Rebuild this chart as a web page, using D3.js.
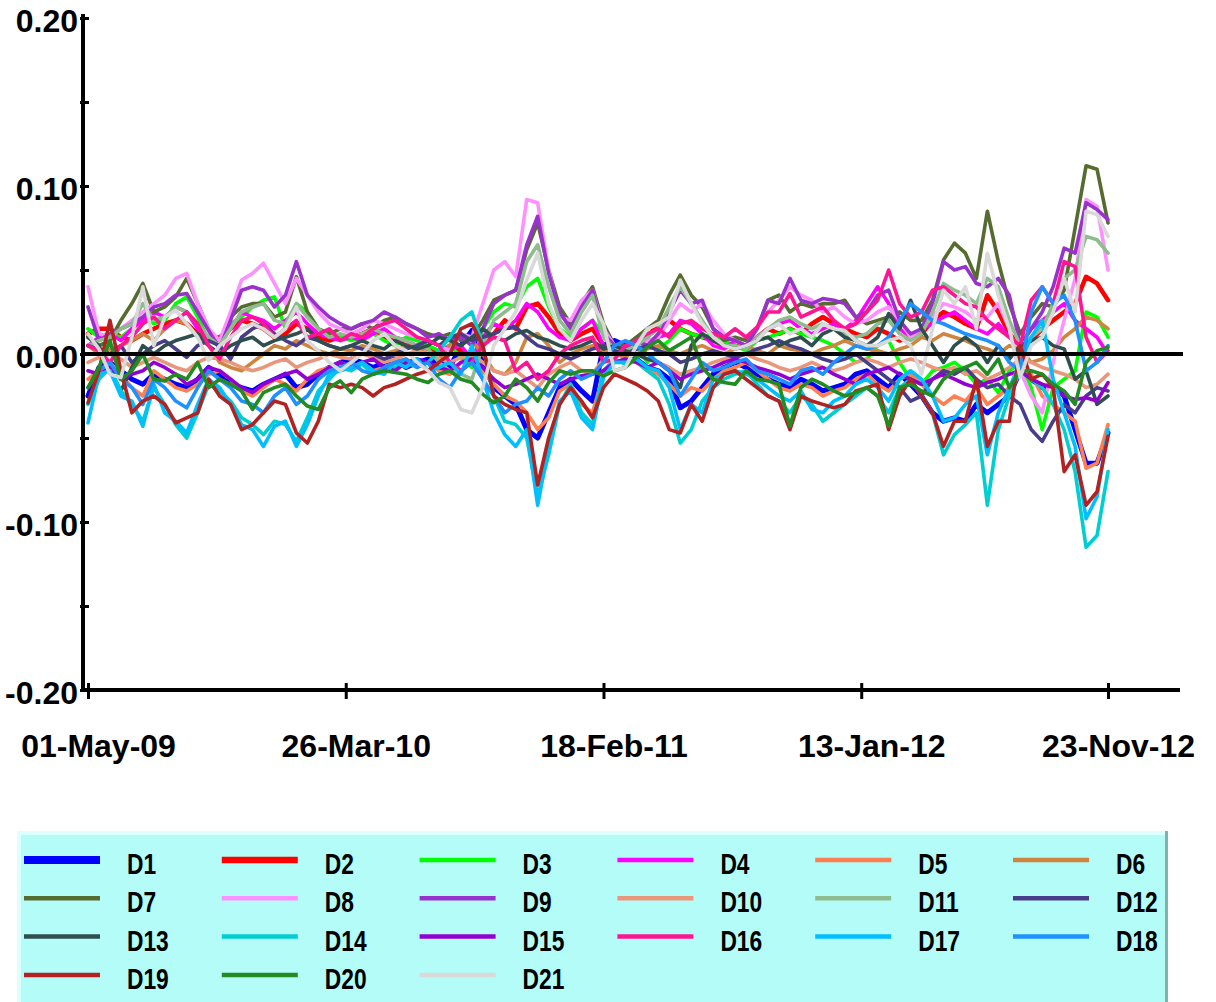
<!DOCTYPE html>
<html><head><meta charset="utf-8">
<script src="https://cdn.jsdelivr.net/npm/d3@7"></script>
<style>
html,body{margin:0;padding:0;background:#fff;}
svg{display:block;}
text{font-family:"Liberation Sans",Arial,sans-serif;font-weight:bold;fill:#000;}
</style></head><body>
<svg id="chart" width="1216" height="1002"></svg>
<script>
// ---- data ----
const startDate = "2009-05-01";
const stepDays = 14;
const xTickDates = ["2009-05-01","2010-03-26","2011-02-18","2012-01-13","2012-11-23"];
const xTickLabels = ["01-May-09","26-Mar-10","18-Feb-11","13-Jan-12","23-Nov-12"];
const yTicks = [-0.2,-0.1,0,0.1,0.2];
const yTickLabels = ["-0.20","-0.10","0.00","0.10","0.20"];
const yMinorTicks = [-0.15,-0.05,0.05,0.15];
const seriesNames = ["D1","D2","D3","D4","D5","D6","D7","D8","D9","D10","D11","D12","D13","D14","D15","D16","D17","D18","D19","D20","D21"];

const D1 = [-.025,-.008,-.005,-.010,-.015,-.018,-.012,-.015,-.018,-.020,
-.015,-.008,-.012,-.018,-.020,-.022,-.018,-.015,-.012,-.020,
-.018,-.012,-.008,-.005,-.003,-.005,-.008,-.005,-.003,-.008,
-.005,-.003,-.005,-.008,.005,.014,-.005,-.020,-.025,-.030,
-.045,-.050,-.035,-.020,-.015,-.022,-.028,.005,.008,.005,
-.003,-.008,-.010,-.015,-.032,-.028,-.020,-.012,-.008,-.005,
-.008,-.012,-.015,-.018,-.020,-.015,-.018,-.022,-.020,-.018,
-.012,-.010,-.015,-.020,-.012,-.018,-.025,-.035,-.040,-.038,
-.040,-.030,-.035,-.030,-.025,-.010,-.015,-.020,-.018,-.025,
-.045,-.065,-.065,-.047];
const D2 = [.012,.015,.015,.010,.008,.012,.015,.018,.020,.018,
.012,.008,.010,.015,.020,.018,.015,.010,.012,.018,
.015,.010,.008,.010,.010,.012,.015,.010,.008,.005,
.005,.003,.000,.005,.002,-.002,.005,.012,.020,.015,
.028,.030,.022,.012,.008,.012,.015,.005,.002,.002,
.005,.010,.018,.020,.015,.012,.010,.008,.005,.005,
.003,.010,.015,.012,.015,.012,.018,.022,.018,.015,
.012,.010,.015,.012,.008,.010,.012,.020,.025,.022,
.018,.015,.035,.025,.012,.005,.008,.015,.020,.025,
.030,.046,.042,.032];
const D3 = [.015,.010,.012,.010,.015,.022,.018,.020,.030,.034,
.022,.008,.005,.018,.022,.028,.032,.034,.015,.030,
.025,.015,.012,.010,.008,.010,.012,.008,.005,.010,
.008,.005,.002,.005,-.002,-.008,.015,.025,.030,.028,
.040,.045,.028,.015,.010,.015,.020,.012,.003,.000,
.005,-.005,.003,.008,.015,.012,.010,.012,.008,.005,
.002,.008,.010,.012,.015,.012,.010,.008,.005,.000,
-.005,-.003,.005,.008,-.005,-.015,-.018,-.010,-.008,-.005,
-.010,-.018,-.015,-.023,-.010,-.005,-.020,-.045,-.020,-.015,
-.010,.025,.022,.010];
const D4 = [.005,.010,.012,.008,.015,.020,.025,.022,.028,.025,
.015,.010,.008,.015,.025,.022,.020,.015,.020,.025,
.018,.012,.010,.008,.010,.008,.012,.015,.010,.008,
.005,.008,.005,.003,.005,-.003,.010,.018,.015,.020,
.030,.025,.015,.010,.008,.015,.020,.005,.002,-.002,
.003,.005,.010,.012,.020,.018,.012,.005,.003,.008,
.005,.010,.015,.018,.020,.015,.012,.015,.018,.015,
.020,.030,.040,.030,.015,.010,.015,.018,.022,.025,
.020,.015,.012,.018,.010,.005,.015,.020,.025,.030,
.020,.015,.010,.000];
const D5 = [-.015,-.010,-.005,-.012,-.020,-.025,-.010,-.015,-.020,-.022,
-.018,-.012,-.010,-.015,-.022,-.025,-.020,-.015,-.018,-.022,
-.015,-.010,-.008,-.005,-.008,-.005,-.010,-.008,-.005,-.003,
-.008,-.005,-.010,-.012,-.005,-.002,-.010,-.018,-.025,-.028,
-.035,-.045,-.038,-.022,-.018,-.030,-.035,-.012,-.005,-.003,
-.005,-.010,-.012,-.018,-.025,-.020,-.022,-.015,-.010,-.008,
-.005,-.010,-.015,-.020,-.022,-.018,-.020,-.025,-.022,-.020,
-.015,-.012,-.018,-.022,-.015,-.012,-.018,-.025,-.030,-.025,
-.028,-.020,-.030,-.025,-.020,-.008,-.012,-.025,-.030,-.035,
-.040,-.068,-.065,-.042];
const D6 = [.005,.000,.003,.005,.008,.012,.008,.015,.020,.018,
.010,.005,-.005,-.008,-.010,-.005,.000,.005,.003,.008,
.005,.002,.000,.003,.002,.005,.003,.000,.002,.005,
.003,.000,-.003,.005,.010,.008,.000,-.010,-.012,-.005,
.010,.012,.005,-.005,.000,.003,.005,.002,.000,-.002,
.000,.003,.005,.002,.000,.003,.005,.002,.000,.003,
.005,.002,.000,.005,.003,.002,.000,.003,.005,.008,
.005,.003,.002,.000,.003,.005,.010,.008,.012,.010,
.008,.005,.003,.000,.005,.003,-.005,-.003,.002,.010,
.015,.022,.020,.015];
const D7 = [.010,.005,.008,.020,.030,.042,.025,.028,.034,.045,
.030,.015,.003,.022,.028,.030,.030,.022,.025,.046,
.025,.015,.012,.015,.015,.018,.015,.020,.022,.018,
.015,.012,.010,.012,.008,.010,.020,.032,.035,.038,
.062,.078,.050,.028,.018,.030,.040,.018,.005,.005,
.010,.015,.020,.035,.047,.035,.028,.015,.008,.010,
.008,.015,.032,.035,.025,.030,.028,.030,.030,.032,
.022,.018,.020,.022,.025,.020,.020,.032,.056,.066,
.060,.045,.085,.055,.030,.012,.022,.030,.028,.038,
.075,.112,.110,.078];
const D8 = [.040,.012,.010,.015,.020,.025,.030,.035,.045,.048,
.030,.015,.008,.025,.044,.048,.054,.042,.030,.045,
.035,.025,.018,.015,.012,.015,.020,.018,.015,.012,
.010,.008,.005,.002,.012,.010,.030,.050,.055,.046,
.092,.090,.050,.022,.020,.032,.038,.015,.005,.003,
.005,.008,.010,.020,.030,.025,.030,.020,.012,.008,
.005,.015,.025,.032,.040,.035,.032,.025,.028,.022,
.018,.020,.025,.028,.020,.010,.015,.022,.030,.028,
.025,.020,.022,.030,.015,-.010,-.025,-.035,-.005,.020,
.045,.092,.088,.050];
const D9 = [.028,.008,.012,.015,.018,.022,.028,.030,.035,.036,
.025,.014,.003,.020,.038,.040,.038,.028,.035,.055,
.035,.028,.022,.018,.015,.018,.020,.025,.022,.018,
.015,.010,.012,.008,.010,.005,.015,.030,.035,.038,
.065,.082,.048,.025,.015,.028,.038,.012,.005,.003,
.008,.005,.012,.025,.038,.030,.032,.015,.010,.008,
.005,.015,.032,.030,.045,.032,.030,.033,.032,.030,
.022,.025,.035,.038,.020,.012,.015,.030,.055,.050,
.052,.042,.040,.045,.035,.005,.015,.025,.040,.063,
.060,.090,.086,.080];
const D10 = [-.005,-.002,.000,-.003,-.008,-.005,-.002,-.005,-.008,-.010,
-.005,-.002,-.003,-.005,-.008,-.010,-.008,-.005,-.003,-.008,
-.005,-.003,.000,-.002,-.003,.000,-.002,-.005,-.003,.000,
.002,.000,-.003,-.005,-.002,.000,-.005,-.010,-.012,-.010,
-.015,-.020,-.012,-.008,-.005,-.010,-.012,-.003,.000,.002,
.000,-.003,-.005,-.008,-.012,-.010,-.008,-.005,-.003,-.002,
.000,-.003,-.005,-.008,-.010,-.008,-.005,-.008,-.010,-.008,
-.005,-.003,-.005,-.008,-.005,-.003,-.005,-.008,-.010,-.008,
-.012,-.010,-.015,-.012,-.008,-.003,-.005,-.008,-.010,-.012,
-.015,-.020,-.018,-.012];
const D11 = [.005,.008,.010,.015,.018,.030,.020,.022,.028,.025,
.018,.010,.005,.015,.025,.028,.030,.020,.018,.030,
.022,.015,.010,.012,.010,.012,.015,.012,.010,.008,
.005,.003,-.005,-.010,-.012,-.015,.005,.020,.025,.030,
.055,.065,.040,.020,.012,.025,.035,.010,.003,.002,
.005,.010,.015,.028,.040,.030,.020,.010,.005,.005,
.003,.010,.015,.020,.022,.018,.015,.018,.015,.012,
.010,.012,.018,.020,.012,.008,.012,.025,.042,.038,
.035,.030,.045,.040,.020,.005,.010,.015,.030,.045,
.050,.070,.068,.060];
const D12 = [.005,.003,.000,.005,-.005,.000,.005,.008,.003,-.002,
.005,.008,.005,-.003,.010,.015,.018,.012,.008,.005,
.010,.008,.005,.003,.005,.003,.000,-.003,.000,.003,
.005,.008,.005,.010,.012,.008,.010,.012,.015,.016,
.010,.005,.003,.000,-.003,.000,.003,.005,.002,.000,
.003,.005,.002,.000,-.005,-.003,.000,.002,.000,-.002,
.000,.003,.005,.008,.005,.003,.000,-.003,-.005,-.003,
.000,-.005,-.010,-.015,-.020,-.028,-.025,-.015,-.010,-.012,
-.008,-.015,-.020,-.018,-.025,-.030,-.045,-.052,-.040,-.030,
-.035,-.025,-.020,-.022];
const D13 = [.010,.005,-.010,-.022,-.008,.005,.000,.005,.008,.010,
.012,.005,.000,.005,.008,.010,.005,.008,.010,.012,
.015,.008,.005,.003,.005,.008,.005,.003,.008,.005,
.003,.005,.010,.008,.005,.010,.015,.010,.008,.012,
.014,.010,.008,.005,.003,.005,.008,.003,.005,.002,
.000,-.003,-.005,-.010,-.020,.005,.012,.008,.005,.003,
.005,.008,.010,.005,.008,.010,.005,.012,.015,.010,
.008,.005,.010,.024,.015,.032,.015,.005,-.005,.005,
.010,.005,-.005,.005,-.003,.005,.008,.010,.005,.003,
-.015,-.010,-.030,-.025];
const D14 = [-.030,-.015,-.008,-.022,-.030,-.040,-.020,-.030,-.042,-.050,
-.035,-.018,-.022,-.028,-.038,-.042,-.048,-.040,-.042,-.052,
-.038,-.022,-.015,-.008,-.010,-.006,-.012,-.010,-.008,-.005,
-.008,-.005,.002,.010,.020,.025,.005,-.025,-.040,-.042,
-.050,-.085,-.060,-.030,-.018,-.035,-.042,-.010,-.003,-.006,
-.004,-.010,-.015,-.030,-.053,-.045,-.028,-.020,-.015,-.012,
-.010,-.018,-.025,-.028,-.035,-.025,-.030,-.040,-.035,-.030,
-.025,-.020,-.025,-.035,-.020,-.015,-.025,-.035,-.060,-.048,
-.042,-.035,-.090,-.045,-.025,-.010,-.015,-.020,-.030,-.045,
-.070,-.115,-.108,-.070];
const D15 = [-.010,-.012,-.008,-.015,-.012,-.010,-.005,-.008,-.012,-.018,
-.015,-.008,-.010,-.015,-.020,-.023,-.018,-.015,-.012,-.010,
-.015,-.012,-.008,-.005,-.008,-.005,-.003,-.008,-.010,-.005,
-.003,-.005,-.008,-.010,-.005,-.003,-.008,-.015,-.020,-.018,
-.015,-.012,-.015,-.018,-.015,-.013,-.012,-.010,-.005,-.003,
-.005,-.008,-.005,-.010,-.015,-.012,-.010,-.008,-.005,-.003,
-.005,-.008,-.010,-.012,-.015,-.012,-.010,-.008,-.012,-.015,
-.018,-.012,-.010,-.008,-.012,-.015,-.018,-.015,-.012,-.015,
-.018,-.020,-.017,-.015,-.012,-.010,-.015,-.018,-.020,-.025,
-.027,-.026,-.028,-.017];
const D16 = [.005,.002,-.005,.005,.010,.018,.022,.015,.020,.025,
.018,.005,-.003,.010,.020,.022,.018,.010,.015,.020,
.010,.012,.015,.008,.012,.010,.015,.018,.020,.015,
.010,.008,.005,-.005,-.010,-.005,.005,.010,.008,-.010,
-.005,-.015,-.010,.000,.005,.008,.010,-.005,-.003,.005,
.008,.012,.015,.010,.018,.020,.015,.012,.010,.015,
.010,.016,.025,.025,.036,.022,.025,.028,.020,.015,
.018,.025,.032,.050,.030,.022,.025,.038,.040,.035,
.030,.028,.020,.015,.010,.005,.032,.040,.030,.055,
.052,.010,-.005,.002];
const D17 = [-.041,-.012,-.010,-.025,-.028,-.043,-.018,-.035,-.040,-.047,
-.030,-.015,-.020,-.030,-.042,-.045,-.055,-.043,-.040,-.055,
-.042,-.025,-.012,-.010,-.008,-.005,-.010,-.012,-.005,-.008,
-.003,-.010,-.008,-.005,-.012,.005,-.015,-.035,-.048,-.055,
-.045,-.090,-.055,-.028,-.022,-.038,-.045,-.014,-.005,-.005,
-.003,-.008,-.010,-.020,-.045,-.030,-.035,-.015,-.012,-.010,
-.012,-.015,-.020,-.025,-.028,-.022,-.033,-.035,-.028,-.025,
-.018,-.015,-.020,-.028,-.015,-.010,-.015,-.025,-.040,-.038,
-.030,-.025,-.060,-.035,-.020,-.005,.010,.020,-.015,-.035,
-.055,-.098,-.085,-.045];
const D18 = [-.020,-.010,-.005,-.015,-.020,-.030,-.015,-.020,-.028,-.032,
-.020,-.010,-.015,-.020,-.028,-.030,-.035,-.025,-.020,-.030,
-.025,-.015,-.010,-.008,-.005,-.010,-.012,-.008,-.005,-.003,
-.008,-.005,-.015,-.020,-.010,-.005,-.015,-.025,-.035,-.030,
-.028,-.020,-.025,-.015,-.010,-.015,-.012,-.005,.005,.008,
.005,.000,-.005,-.010,-.025,-.015,-.005,-.010,-.008,-.005,
-.003,-.010,-.012,-.015,-.018,-.010,-.008,-.012,-.005,.000,
.005,.003,.005,.010,.020,.030,.025,.020,.018,.015,
.012,.010,.008,.005,-.005,-.010,.025,.040,.030,.035,
.020,-.010,-.005,.005];
const D19 = [-.029,-.010,.020,-.010,-.035,-.028,-.025,-.030,-.041,-.038,
-.035,-.015,-.025,-.030,-.045,-.042,-.035,-.028,-.030,-.047,
-.053,-.040,-.018,-.020,-.018,-.020,-.025,-.020,-.018,-.015,
-.012,-.010,-.005,.000,.015,.018,.005,-.025,-.030,-.033,
-.035,-.078,-.050,-.030,-.020,-.028,-.038,-.020,-.012,-.015,
-.018,-.022,-.028,-.045,-.047,-.030,-.040,-.020,-.012,-.010,
-.015,-.020,-.025,-.028,-.045,-.025,-.028,-.030,-.032,-.030,
-.022,-.020,-.018,-.045,-.025,-.015,-.025,-.035,-.055,-.040,
-.040,-.015,-.055,-.040,-.040,.005,-.015,-.012,-.020,-.070,
-.060,-.090,-.082,-.049];
const D20 = [-.020,-.008,.008,-.015,-.010,.000,-.015,-.016,-.012,-.015,
-.005,-.020,-.015,-.018,-.022,-.033,-.023,-.020,-.018,-.025,
-.031,-.033,-.020,-.016,-.023,-.015,-.012,-.010,-.011,-.012,
-.015,-.017,-.012,-.010,-.015,-.017,-.024,-.029,-.025,-.015,
-.020,-.028,-.017,-.010,-.012,-.010,-.010,-.013,-.010,-.008,
-.002,.004,.008,.002,.006,.010,-.008,-.015,-.017,-.018,
-.010,-.015,-.016,-.018,-.043,-.020,-.015,-.018,-.022,-.025,
-.023,-.020,-.025,-.043,-.020,-.018,-.022,-.025,-.015,-.010,
-.008,-.005,-.012,-.003,-.020,-.010,-.010,-.012,-.018,-.022,
-.030,-.005,.002,.004];
const D21 = [.012,.003,-.012,-.014,.010,.040,.005,.022,.026,.018,
.010,-.004,.005,.010,.015,.018,.015,.010,.015,.028,
.008,.002,-.005,-.010,-.005,.000,.008,.012,.005,.002,
-.005,-.010,-.017,-.020,-.033,-.035,-.020,.005,.015,.025,
.044,.060,.030,.015,.008,.020,.030,.018,-.010,-.008,
.005,.015,.018,.022,.044,.030,.018,.010,.005,.003,
.005,.008,.015,.018,.012,.015,.010,.018,.015,.014,
.008,.005,.005,.008,.010,.005,-.012,.015,.038,.030,
.040,.015,.060,.035,.015,-.014,.005,.010,.025,.045,
.025,.085,.083,.070];

const seriesValues = [D1,D2,D3,D4,D5,D6,D7,D8,D9,D10,D11,D12,D13,D14,D15,D16,D17,D18,D19,D20,D21];

// ---- styles ----
const colors = ["#0000FF","#FF0000","#00FF00","#FF00FF","#FF7F50","#CD853F","#556B2F","#FF90FF","#9932CC","#E9967A","#8FBC8F","#483D8B","#2F4F4F","#00CED1","#9400D3","#FF1493","#00BFFF","#1E90FF","#B22222","#228B22","#D9D9D9"];
const lineWidths = seriesNames.map((n,i)=> i===0 ? 5 : (i===1 ? 4.5 : 3.6));
const swatchWidths = seriesNames.map((n,i)=> i===0 ? 8 : (i===1 ? 6.5 : 4.5));

const svg = d3.select("#chart");
svg.append("rect").attr("width",1216).attr("height",1002).attr("fill","#fff");

const parse = d3.utcParse("%Y-%m-%d");
const t0 = parse(startDate);
const dates = D1.map((_, i) => d3.utcDay.offset(t0, i*stepDays));

const x = d3.scaleUtc().domain([parse("2009-05-01"), parse("2012-11-23")]).range([88,1108]);
const y = d3.scaleLinear().domain([-0.2,0.2]).range([690,18]);

// series lines
const line = d3.line().x((d,i)=>x(dates[i])).y(d=>y(d));
const gLines = svg.append("g");
seriesValues.forEach((vals, k) => {
  gLines.append("path").datum(vals)
    .attr("d", line)
    .attr("fill","none")
    .attr("stroke", colors[k])
    .attr("stroke-width", lineWidths[k])
    .attr("stroke-linejoin","round")
    .attr("stroke-linecap","round");
});

// zero line
svg.append("line").attr("x1",83).attr("x2",1183).attr("y1",y(0)).attr("y2",y(0))
  .attr("stroke","#000").attr("stroke-width",4);

// y axis
const yAxisG = svg.append("g").attr("transform","translate(83,0)")
  .call(d3.axisLeft(y).tickValues(yTicks).tickSize(0).tickFormat((d,i)=>yTickLabels[i]));
yAxisG.select(".domain").remove();
yAxisG.selectAll(".tick text").attr("x",-5).attr("dy",null).attr("y",13)
  .style("font-size","32px").style("font-family",'"Liberation Sans",Arial,sans-serif').style("font-weight","bold");
yAxisG.selectAll(".tick line").attr("x1",-3).attr("x2",6).attr("stroke","#000").attr("stroke-width",3);
const yMinorG = svg.append("g").attr("transform","translate(83,0)")
  .call(d3.axisLeft(y).tickValues(yMinorTicks).tickSize(0).tickFormat(""));
yMinorG.select(".domain").remove();
yMinorG.selectAll(".tick line").attr("x1",-3).attr("x2",6).attr("stroke","#000").attr("stroke-width",3);
svg.append("line").attr("x1",83).attr("x2",83).attr("y1",14).attr("y2",692)
  .attr("stroke","#000").attr("stroke-width",4);

// x axis
const xAxisG = svg.append("g").attr("transform","translate(0,690)")
  .call(d3.axisBottom(x).tickValues(xTickDates.map(parse)).tickSize(0).tickFormat((d,i)=>xTickLabels[i]));
xAxisG.select(".domain").remove();
xAxisG.selectAll(".tick line").attr("y1",-7).attr("y2",9).attr("stroke","#000").attr("stroke-width",3);
xAxisG.selectAll(".tick text").attr("y",67).attr("dy",null).attr("x",10)
  .style("font-size","32px").style("font-family",'"Liberation Sans",Arial,sans-serif').style("font-weight","bold");
svg.append("line").attr("x1",81).attr("x2",1180).attr("y1",690).attr("y2",690)
  .attr("stroke","#000").attr("stroke-width",4);

// legend
const lg = svg.append("g");
lg.append("rect").attr("x",17).attr("y",831).attr("width",1151).attr("height",171).attr("fill","#7FB3B0");
lg.append("rect").attr("x",17).attr("y",831).attr("width",1148).attr("height",171).attr("fill","#B3FCF8");
lg.append("rect").attr("x",17).attr("y",831).attr("width",1148).attr("height",4).attr("fill","#DDFFFE");
lg.append("rect").attr("x",17).attr("y",831).attr("width",4).attr("height",171).attr("fill","#DDFFFE");
seriesNames.forEach((name, k) => {
  const col = k % 6, row = Math.floor(k / 6);
  const sx = 24 + col * 197.8, sy = 860 + row * 38.3;
  lg.append("line").attr("x1",sx).attr("x2",sx+76).attr("y1",sy).attr("y2",sy)
    .attr("stroke",colors[k]).attr("stroke-width",swatchWidths[k]);
  lg.append("text").attr("transform",`translate(${sx+103},${sy+14}) scale(0.76,1)`).text(name)
    .style("font-size","30px");
});
</script>
</body></html>
